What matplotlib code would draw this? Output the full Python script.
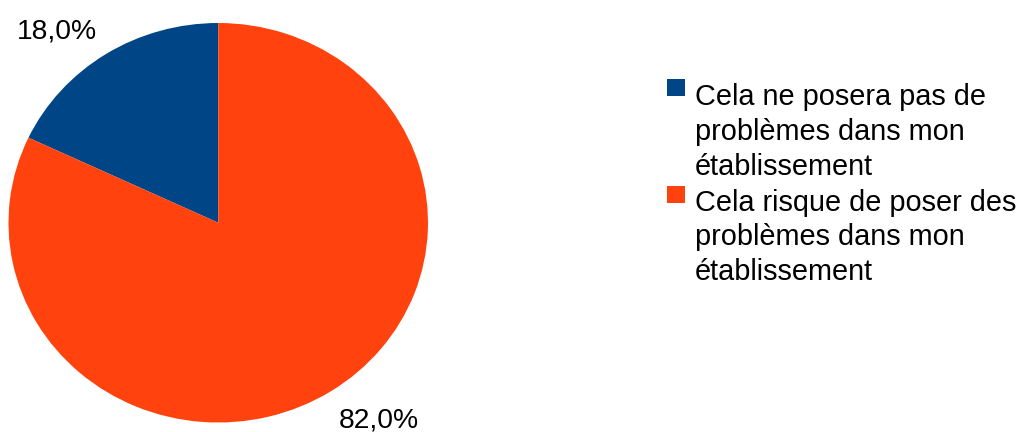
import matplotlib
matplotlib.use("Agg")
import matplotlib.pyplot as plt
from matplotlib.patches import Rectangle

# Survey answers and their shares (%)
categories = [
    "Cela ne posera pas de\nproblèmes dans mon\nétablissement",
    "Cela risque de poser des\nproblèmes dans mon\nétablissement",
]
shares = [18.0, 82.0]
colors = ["#004586", "#FF420E"]

W, H = 1020, 432
plt.rcParams["font.family"] = ["Liberation Sans", "DejaVu Sans"]

fig = plt.figure(figsize=(W / 100, H / 100), dpi=100)
fig.patch.set_facecolor("white")

# Pie area (slightly wider than tall)
cx, cy, rx, ry = 218.25, 222.75, 209.75, 199.75
ax = fig.add_axes([(cx - rx) / W, 1 - (cy + ry) / H, 2 * rx / W, 2 * ry / H])
ax.pie(shares, colors=colors, startangle=90, counterclock=True, radius=1,
       wedgeprops=dict(linewidth=0, antialiased=True))
ax.set_aspect("auto")
ax.set_xlim(-1, 1)
ax.set_ylim(-1, 1)
ax.axis("off")

def fmt(v):
    return f"{v:.1f}".replace(".", ",") + "%"

label_pos = [(-0.770, 0.923), (0.764, -1.026)]
for v, (lx, ly) in zip(shares, label_pos):
    ax.text(lx, ly, fmt(v), ha="center", va="baseline", fontsize=20.3,
            color="black", clip_on=False)

# Legend drawn line by line
def fy(y):
    return 1 - y / H

sq_x, sq_w = 667, 18
text_x = 695
line_step = 34.8
item_baselines = [105.0, 210.5]
square_tops = [79.3, 186.0]
for cat, col, base, sq_top in zip(categories, colors, item_baselines, square_tops):
    fig.add_artist(Rectangle((sq_x / W, fy(sq_top + 17)), sq_w / W, 17 / H,
                             transform=fig.transFigure, facecolor=col,
                             edgecolor="none"))
    for i, line in enumerate(cat.split("\n")):
        fig.text(text_x / W, fy(base + i * line_step), line, ha="left",
                 va="baseline", fontsize=20.8, color="black")

fig.savefig("out.png", dpi=100, facecolor="white")
